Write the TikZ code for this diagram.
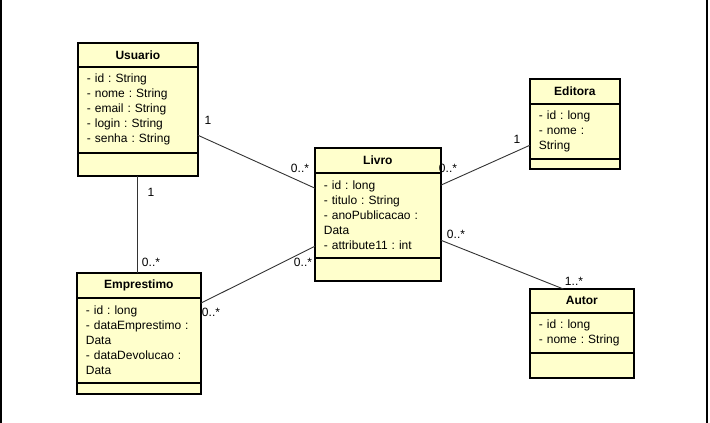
\documentclass[tikz,border=0pt]{standalone}
\usepackage{fontspec}
\setmainfont{Liberation Sans}
\usetikzlibrary{positioning}
\definecolor{classfill}{RGB}{255,255,204}
\frenchspacing

\begin{document}
\begin{tikzpicture}[
x=1pt,y=-1pt,
node distance=0pt,
every node/.style={font=\fontsize{12}{15}\selectfont},
classtitle/.style={draw,line width=0.8pt,fill=classfill,inner sep=0pt,font=\fontsize{12}{15}\selectfont\bfseries,anchor=north west},
classattr/.style={draw,line width=0.8pt,fill=classfill,align=left,inner xsep=8.5pt,inner ysep=0pt},
classops/.style={draw,line width=0.8pt,fill=classfill,inner sep=0pt},
classbox/.style={draw,line width=2pt},
assoc/.style={draw,line width=0.9pt,black!80},
mult/.style={inner sep=0pt}
]
\useasboundingbox (0,0) rectangle (710,423);
\draw[line width=2pt] (1,0) -- (1,423);
\draw[line width=2pt] (707,0) -- (707,423);

% Usuario
\node[classtitle,minimum width=119pt,minimum height=23pt] (usuario) at (78,43) {Usuario};
\node[classattr,text width=102pt,minimum height=85pt,below=of usuario] (usuarioattr)
  {- id : String\\- nome : String\\- email : String\\- login : String\\- senha : String};
\node[classops,minimum width=119pt,minimum height=23pt,below=of usuarioattr] (usuarioops) {};
\draw[classbox] (usuario.north west) rectangle (usuarioops.south east);

% Emprestimo
\node[classtitle,minimum width=123pt,minimum height=24pt] (emprestimo) at (77,273) {Emprestimo};
\node[classattr,text width=106pt,minimum height=84pt,below=of emprestimo] (emprestimoattr)
  {- id : long\\- dataEmprestimo :\\Data\\- dataDevolucao :\\Data};
\node[classops,minimum width=123pt,minimum height=11pt,below=of emprestimoattr] (emprestimoops) {};
\draw[classbox] (emprestimo.north west) rectangle (emprestimoops.south east);

% Livro
\node[classtitle,minimum width=125pt,minimum height=24pt] (livro) at (315,148) {Livro};
\node[classattr,text width=108pt,minimum height=84pt,below=of livro] (livroattr)
  {- id : long\\- titulo : String\\- anoPublicacao :\\Data\\- attribute11 : int};
\node[classops,minimum width=125pt,minimum height=23pt,below=of livroattr] (livroops) {};
\draw[classbox] (livro.north west) rectangle (livroops.south east);

% Editora
\node[classtitle,minimum width=89pt,minimum height=24pt] (editora) at (530,79) {Editora};
\node[classattr,text width=72pt,minimum height=54pt,below=of editora] (editoraattr)
  {- id : long\\- nome :\\String};
\node[classops,minimum width=89pt,minimum height=10pt,below=of editoraattr] (editoraops) {};
\draw[classbox] (editora.north west) rectangle (editoraops.south east);

% Autor
\node[classtitle,minimum width=103pt,minimum height=23pt] (autor) at (530,289) {Autor};
\node[classattr,text width=86pt,minimum height=39pt,below=of autor] (autorattr)
  {- id : long\\- nome : String};
\node[classops,minimum width=103pt,minimum height=25pt,below=of autorattr] (autorops) {};
\draw[classbox] (autor.north west) rectangle (autorops.south east);

% associations
\draw[assoc] ([yshift=-25.5pt]usuarioattr.east) -- ([yshift=27pt]livroattr.west);
\draw[assoc] (usuarioops.south) -- (usuarioops.south |- emprestimo.north);
\draw[assoc] ([yshift=37pt]emprestimoattr.east) -- ([yshift=-31pt]livroattr.west);
\draw[assoc] ([yshift=30pt]livroattr.east) -- ([yshift=-14pt]editoraattr.west);
\draw[assoc] ([yshift=-25pt]livroattr.east) -- ([xshift=-18.5pt]autor.north);

% multiplicities
\node[mult] (m1) at (208,120) {1};
\node[mult] (m2) at (300,168) {0..*};
\node[mult] (m3) at (151,192) {1};
\node[mult] (m4) at (151,262) {0..*};
\node[mult] (m5) at (211,312) {0..*};
\node[mult] (m6) at (303,262) {0..*};
\node[mult] (m7) at (448,168) {0..*};
\node[mult] (m8) at (517,139) {1};
\node[mult] (m9) at (456,234) {0..*};
\node[mult] (m10) at (574,281) {1..*};
\end{tikzpicture}
\end{document}
